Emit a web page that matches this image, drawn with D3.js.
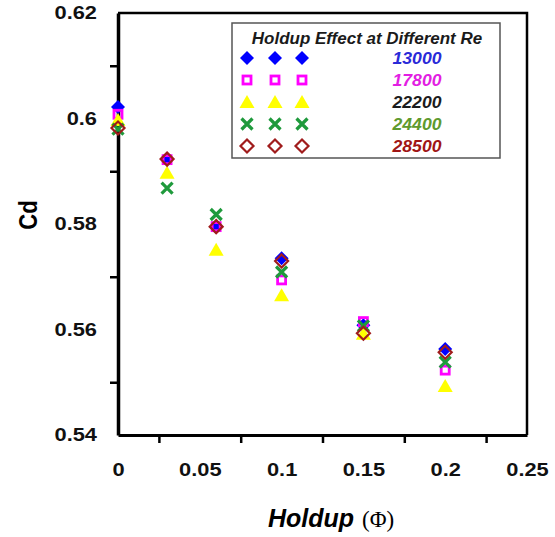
<!DOCTYPE html>
<html>
<head>
<meta charset="utf-8">
<script src="https://cdn.jsdelivr.net/npm/d3@7"></script>
<style>
  body { margin: 0; background: #fff; }
  svg { display: block; }
</style>
</head>
<body>
<div id="chart"></div>
<script>
// holdup values (x) and Cd for each Re series
var holdup = [0, 0.03, 0.06, 0.1, 0.15, 0.2];
var reLabels = ["13000", "17800", "22200", "24400", "28500"];
var cd13000 = [0.6022, 0.5923, 0.5795, 0.5735, 0.5608, 0.5563];
var cd17800 = [0.6008, 0.5922, 0.5795, 0.5694, 0.5615, 0.5523];
var cd22200 = [0.5997, 0.5897, 0.5751, 0.5665, 0.5592, 0.5493];
var cd24400 = [0.5980, 0.5868, 0.5818, 0.5709, 0.5607, 0.5538];
var cd28500 = [0.5982, 0.5923, 0.5795, 0.5730, 0.5593, 0.5557];
var xLabels = [0, 0.05, 0.1, 0.15, 0.2, 0.25];
var xMinor = [0.025, 0.075, 0.125, 0.175, 0.225];
var yLabels = [0.62, 0.6, 0.58, 0.56, 0.54];
var yMinor = [0.61, 0.59, 0.57, 0.55];

var series = [
    { re: reLabels[0], vals: cd13000, shape: "diamondFill", color: "#0000ff", text: "#2a2ad8" },
    { re: reLabels[1], vals: cd17800, shape: "square", color: "#ff00ff", text: "#e21ee2" },
    { re: reLabels[2], vals: cd22200, shape: "triangle", color: "#ffff00", text: "#1c1c1c" },
    { re: reLabels[3], vals: cd24400, shape: "cross", color: "#1f9a3c", text: "#5f9a2e" },
    { re: reLabels[4], vals: cd28500, shape: "diamond", color: "#a01c1c", text: "#a01515" }
];

var width = 555, height = 537;
var plotLeft = 118, plotRight = 527, plotTop = 13, plotBottom = 435;
var font = "'Liberation Sans', Arial, sans-serif";
var stretch = 1.18;

var x = d3.scaleLinear().domain([0, 0.25]).range([plotLeft, plotRight]);
var y = d3.scaleLinear().domain([0.54, 0.62]).range([plotBottom, plotTop]);

var svg = d3.select("#chart").append("svg")
    .attr("width", width)
    .attr("height", height);

// widen text a bit, the source picture is stretched horizontally
function widen(sel, k) {
    sel.each(function() {
        var len = this.getComputedTextLength();
        d3.select(this).attr("textLength", len * (k || stretch)).attr("lengthAdjust", "spacingAndGlyphs");
    });
}

function drawMarker(g, shape, color) {
    if (shape == "diamondFill") {
        g.append("path").attr("d", "M0,-7L7,0L0,7L-7,0Z").attr("fill", color);
    } else if (shape == "diamond") {
        g.append("path").attr("d", "M0,-6.5L6.5,0L0,6.5L-6.5,0Z")
            .attr("fill", "none").attr("stroke", color).attr("stroke-width", 2.2);
    } else if (shape == "square") {
        g.append("rect").attr("x", -4).attr("y", -4).attr("width", 8).attr("height", 8)
            .attr("fill", "none").attr("stroke", color).attr("stroke-width", 2.8);
    } else if (shape == "triangle") {
        g.append("path").attr("d", "M0,-7L7.5,6L-7.5,6Z").attr("fill", color);
    } else if (shape == "cross") {
        g.append("path").attr("d", "M-5.5,-5.5L5.5,5.5M5.5,-5.5L-5.5,5.5")
            .attr("fill", "none").attr("stroke", color).attr("stroke-width", 3.2);
    }
}

// frame
svg.append("path")
    .attr("d", "M" + plotLeft + "," + plotTop + "H" + plotRight + "V" + plotBottom)
    .attr("fill", "none").attr("stroke", "#000").attr("stroke-width", 2.5);

// x axis ticks (between labels)
svg.append("g")
    .attr("transform", "translate(0," + plotBottom + ")")
    .call(d3.axisBottom(x).tickValues(xMinor).tickSize(8).tickSizeOuter(0).tickFormat(""))
    .call(function(g) {
        g.select(".domain").attr("stroke-width", 3);
        g.selectAll(".tick line").attr("stroke-width", 2.5);
    });

// x labels
svg.append("g")
    .attr("transform", "translate(0," + plotBottom + ")")
    .call(d3.axisBottom(x).tickValues(xLabels).tickSize(0).tickPadding(28)
        .tickFormat(function(d) { return String(+d.toFixed(2)); }))
    .call(function(g) {
        g.select(".domain").remove();
        g.selectAll("text")
            .attr("font-family", font).attr("font-weight", "bold")
            .attr("font-size", 18.5).attr("fill", "#111")
            .call(widen);
    });

// y axis ticks
svg.append("g")
    .attr("transform", "translate(" + plotLeft + ",0)")
    .call(d3.axisLeft(y).tickValues(yMinor).tickSize(8).tickSizeOuter(0).tickFormat(""))
    .call(function(g) {
        g.select(".domain").attr("stroke-width", 3.5);
        g.selectAll(".tick line").attr("stroke-width", 2.5);
    });

// y labels
svg.append("g")
    .attr("transform", "translate(" + plotLeft + ",0)")
    .call(d3.axisLeft(y).tickValues(yLabels).tickSize(0).tickPadding(21)
        .tickFormat(function(d) { return String(+d.toFixed(2)); }))
    .call(function(g) {
        g.select(".domain").remove();
        g.selectAll("text")
            .attr("font-family", font).attr("font-weight", "bold")
            .attr("font-size", 18.5).attr("fill", "#111")
            .call(widen);
    });

// axis titles
svg.append("text")
    .attr("transform", "translate(37,215) rotate(-90)")
    .attr("text-anchor", "middle")
    .attr("font-family", font).attr("font-weight", "bold")
    .attr("font-size", 26)
    .text("Cd")
    .call(widen, 0.85);

var xt = svg.append("text")
    .attr("x", 268).attr("y", 527);
xt.append("tspan")
    .attr("font-family", font).attr("font-weight", "bold").attr("font-style", "italic")
    .attr("font-size", 25)
    .text("Holdup");
xt.append("tspan")
    .attr("dx", 8)
    .attr("font-family", "'Liberation Serif', 'Times New Roman', serif")
    .attr("font-size", 23)
    .text("(\u03A6)");

// data points
series.forEach(function(s) {
    var g = svg.append("g");
    s.vals.forEach(function(v, i) {
        var m = g.append("g").attr("transform", "translate(" + x(holdup[i]) + "," + y(v) + ")");
        drawMarker(m, s.shape, s.color);
    });
});

// legend
var legend = svg.append("g");
legend.append("rect")
    .attr("x", 232).attr("y", 23).attr("width", 268).attr("height", 135)
    .attr("fill", "#fff").attr("stroke", "#555").attr("stroke-width", 1.5);

legend.append("text")
    .attr("x", 367).attr("y", 44)
    .attr("text-anchor", "middle")
    .attr("font-family", font).attr("font-weight", "bold").attr("font-style", "italic")
    .attr("font-size", 16).attr("fill", "#1a1a1a")
    .text("Holdup Effect at Different Re")
    .call(widen, 1.06);

series.forEach(function(s, i) {
    var cy = 58 + i * 22;
    [247, 275, 302].forEach(function(cx) {
        var m = legend.append("g").attr("transform", "translate(" + cx + "," + cy + ")");
        drawMarker(m, s.shape, s.color);
    });
    legend.append("text")
        .attr("x", 417).attr("y", cy + 6)
        .attr("text-anchor", "middle")
        .attr("font-family", font).attr("font-weight", "bold").attr("font-style", "italic")
        .attr("font-size", 16).attr("fill", s.text)
        .text(s.re)
        .call(widen, 1.1);
});
</script>
</body>
</html>
